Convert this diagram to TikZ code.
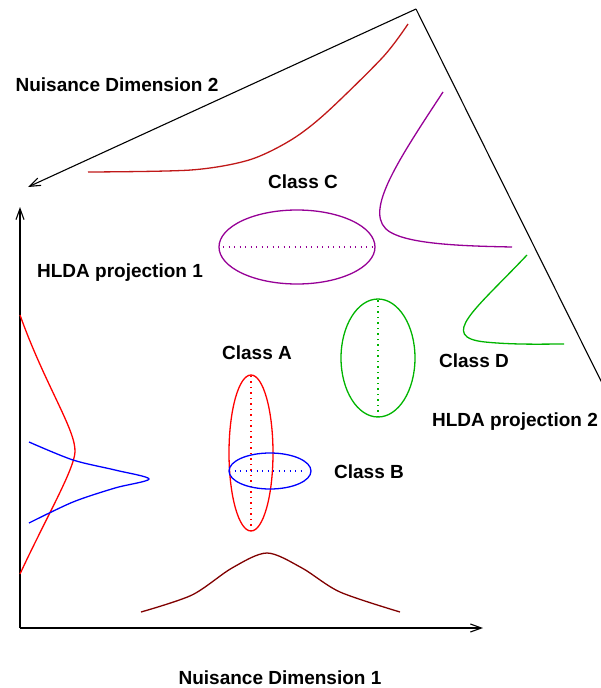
\documentclass[tikz,border=0pt]{standalone}
\usepackage{fontspec}
\setmainfont{Liberation Sans}
\definecolor{ndtwo}{RGB}{192, 24, 24}
\definecolor{ndone}{RGB}{128, 0, 0}
\definecolor{classc}{RGB}{150, 0, 150}
\definecolor{classd}{RGB}{0, 180, 0}
\usetikzlibrary{arrows.meta}

\tikzset{
    lbl/.style={font=\bfseries\fontsize{19}{22}\selectfont, inner sep=0pt, anchor=base},
    axis/.style={line width=1.1pt, -{Straight Barb[length=11pt, width=8pt]}},
    curve/.style={line width=1.3pt},
    axisdots/.style={line width=1.3pt, dash pattern=on 1.3pt off 4.2pt}
}

\begin{document}
\begin{tikzpicture}[x=1pt, y=-1pt]
    \useasboundingbox (0,0) rectangle (600,688);
    % axes
    \coordinate (origin) at (20,628);
    \coordinate (ytip) at (20,207);
    \coordinate (xtip) at (483,628);
    \coordinate (apex) at (416,9);
    \coordinate (ztip) at (28,187);
    \coordinate (hend) at (602,383);
    \draw[axis] (origin) -- (ytip);
    \draw[axis] (origin) -- (xtip);
    \draw[axis] (apex) -- (ztip);
    \draw[line width=1.1pt] (apex) -- (hend);

    % class ellipses
    \coordinate (ca) at (251,453);
    \coordinate (cb) at (270,471);
    \coordinate (cc) at (297,247);
    \coordinate (cd) at (378,358);
    \draw[curve, classc] (cc) ellipse [x radius=78, y radius=37];
    \draw[axisdots, classc] ([xshift=-74]cc) -- ([xshift=76]cc);
    \draw[curve, classd] (cd) ellipse [x radius=37, y radius=59];
    \draw[axisdots, classd] ([yshift=-59]cd) -- ([yshift=59]cd);
    \draw[curve, red] (ca) ellipse [x radius=22, y radius=78];
    \draw[axisdots, red] ([yshift=-78]ca) -- ([yshift=78]ca);
    \draw[curve, blue] (cb) ellipse [x radius=41, y radius=18];
    \draw[axisdots, blue] ([xshift=-41]cb) -- ([xshift=33]cb);

    % projected densities
    \draw[curve, ndtwo] plot[smooth] coordinates {(88,172) (191,170) (249,160) (291,140) (326,113) (383,57) (408,24)};
    \draw[curve, classc] (443,92) .. controls (395,165) and (362,215) .. (390,232)
        .. controls (410,244) and (460,246) .. (512,247);
    \draw[curve, classd] (527,255) .. controls (475,310) and (438,337) .. (485,342)
        .. controls (515,345) and (545,344) .. (564,344);
    \draw[curve, red] (20,315) .. controls (45,385) and (76,430) .. (75,452)
        .. controls (74,470) and (45,520) .. (20,574);
    \draw[curve, blue] plot[smooth] coordinates {(29,442) (73,460) (115,470) (149,479) (115,488) (73,502) (29,523)};
    \draw[curve, ndone] plot[smooth] coordinates {(141,612) (192,595) (232,568) (267,553) (302,568) (340,592) (400,612)};

    % labels
    \node[lbl] (ndtwolbl) at (117,91) {Nuisance Dimension 2};
    \node[lbl] (ndonelbl) at (280,684) {Nuisance Dimension 1};
    \node[lbl] (hldaone) at (120,277) {HLDA projection 1};
    \node[lbl] (hldatwo) at (515,426) {HLDA projection 2};
    \node[lbl] (lbla) at (257,359) {Class A};
    \node[lbl] (lblb) at (369,478) {Class B};
    \node[lbl] (lblc) at (303,188) {Class C};
    \node[lbl] (lbld) at (474,367) {Class D};
\end{tikzpicture}
\end{document}
